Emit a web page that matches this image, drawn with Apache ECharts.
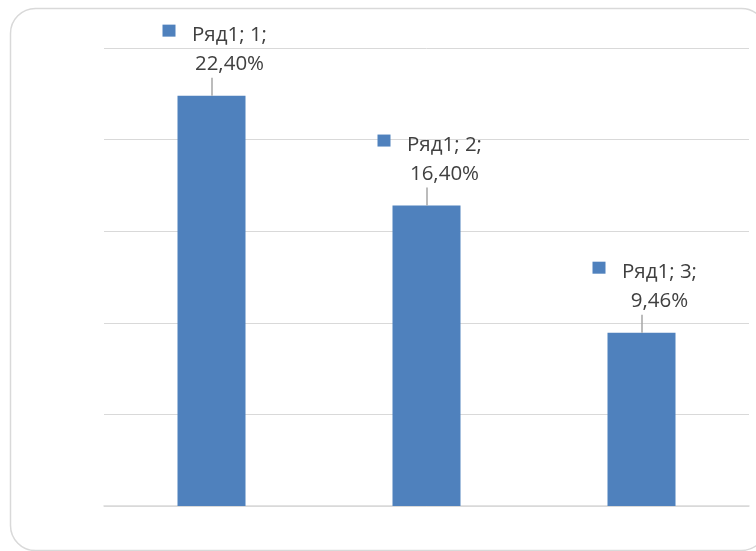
<!DOCTYPE html>
<html>
<head>
<meta charset="utf-8">
<script src="https://cdn.jsdelivr.net/npm/echarts@6/dist/echarts.min.js"></script>
<style>
  html, body { margin: 0; padding: 0; background: #fff; }
  #chart { width: 756px; height: 551px; }
</style>
</head>
<body>
<div id="chart"></div>
<script>
const categories = ["1", "2", "3"];
const values = [22.40, 16.40, 9.46];
const valueLabels = ["22,40%", "16,40%", "9,46%"];
const seriesName = "Ряд1";

const barColor = "#4f81bd";
const gridColor = "#d9d9d9";
const textColor = "#404040";

const chartDom = echarts.init(document.getElementById("chart"));

chartDom.setOption({
  animation: false,
  graphic: [
    {
      type: "rect",
      shape: { x: 10.5, y: 8.5, width: 756, height: 542, r: 25 },
      style: { fill: "none", stroke: gridColor, lineWidth: 1.5 },
      silent: true
    }
  ],
  grid: {
    left: 104,
    right: 7,
    top: 48,
    bottom: 45
  },
  xAxis: {
    type: "category",
    data: categories,
    axisLine: { lineStyle: { color: gridColor, width: 1.5 } },
    axisTick: { show: false },
    axisLabel: { show: false }
  },
  yAxis: {
    type: "value",
    min: 0,
    max: 25,
    interval: 5,
    axisLabel: { show: false },
    splitLine: { lineStyle: { color: gridColor, width: 1 } }
  },
  series: [
    {
      name: seriesName,
      type: "bar",
      data: values,
      barWidth: 68,
      itemStyle: { color: barColor },
      label: {
        show: true,
        position: "top",
        distance: 17,
        offset: [18, 0],
        color: textColor,
        fontFamily: "Open Sans",
        fontSize: 20.5,
        lineHeight: 29,
        align: "center",
        formatter: p => seriesName + "; " + categories[p.dataIndex] + ";\n" + valueLabels[p.dataIndex]
      }
    },
    {
      // выноски и маркеры легенды у подписей
      type: "custom",
      silent: true,
      data: values.map((v, i) => [i, v]),
      renderItem: (params, api) => {
        const pt = api.coord([api.value(0), api.value(1)]);
        return {
          type: "group",
          children: [
            {
              type: "line",
              shape: { x1: pt[0] + 0.5, y1: pt[1] - 18, x2: pt[0] + 0.5, y2: pt[1] },
              style: { stroke: "#a6a6a6", lineWidth: 1.5 }
            },
            {
              type: "rect",
              shape: { x: pt[0] - 49, y: pt[1] - 71, width: 13, height: 12 },
              style: { fill: barColor }
            }
          ]
        };
      },
      z: 3
    }
  ]
});
</script>
</body>
</html>
